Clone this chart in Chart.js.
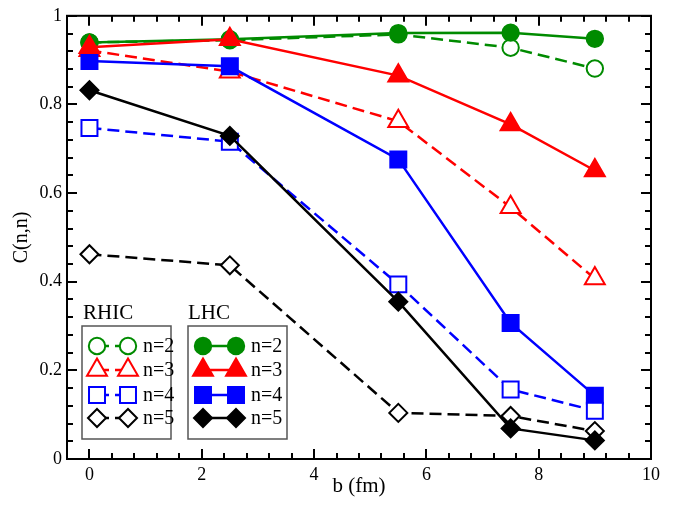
<!DOCTYPE html>
<html>
<head>
<meta charset="utf-8">
<title>C(n,n) vs b</title>
<script src="https://cdn.jsdelivr.net/npm/chart.js@4/dist/chart.umd.min.js"></script>
<style>
  html, body { margin: 0; padding: 0; background: #fff; }
  #wrap { width: 691px; height: 505px; }
</style>
</head>
<body>
<div id="wrap"><canvas id="corrChart" width="691" height="505"></canvas></div>
<script>
// impact parameter b (fm)
const bValues = [0, 2.5, 5.5, 7.5, 9];

// RHIC (open symbols, dashed)
const rhicN2 = [0.940, 0.945, 0.958, 0.928, 0.881];
const rhicN3 = [0.922, 0.874, 0.762, 0.568, 0.407];
const rhicN4 = [0.747, 0.716, 0.394, 0.157, 0.109];
const rhicN5 = [0.462, 0.437, 0.104, 0.097, 0.063];

// LHC (filled symbols, solid)
const lhcN2 = [0.940, 0.947, 0.961, 0.962, 0.948];
const lhcN3 = [0.929, 0.947, 0.865, 0.755, 0.651];
const lhcN4 = [0.898, 0.886, 0.676, 0.307, 0.143];
const lhcN5 = [0.832, 0.729, 0.355, 0.069, 0.042];

const xTicks = [0, 2, 4, 6, 8, 10];
const yTicks = [0, 0.2, 0.4, 0.6, 0.8, 1];
const xMinorStep = 0.4;
const yMinorStep = 0.04;

const GREEN = "rgb(0, 139, 0)";
const RED = "rgb(255, 0, 0)";
const BLUE = "rgb(0, 0, 255)";
const BLACK = "rgb(0, 0, 0)";
const FONT = "'Liberation Serif', 'Times New Roman', serif";

Chart.defaults.font.family = FONT;
Chart.defaults.color = "#000";

function points(vals) {
    return bValues.map(function (b, i) { return { x: b, y: vals[i] }; });
}

function series(label, vals, color, style, radius, open) {
    return {
        label: label,
        data: points(vals),
        borderColor: color,
        borderWidth: 2.5,
        borderDash: open ? [12, 6] : [],
        pointStyle: style,
        pointRadius: radius,
        pointHoverRadius: radius,
        pointBackgroundColor: open ? "#fff" : color,
        pointBorderColor: color,
        pointBorderWidth: 2,
        tension: 0,
        fill: false
    };
}

// listed top-most first (Chart.js paints dataset 0 last)
const datasets = [
    series("LHC n=3", lhcN3, RED, "triangle", 11.5, false),
    series("LHC n=5", lhcN5, BLACK, "rectRot", 9, false),
    series("RHIC n=4", rhicN4, BLUE, "rect", 11.3, true),
    series("LHC n=4", lhcN4, BLUE, "rect", 11.3, false),
    series("RHIC n=5", rhicN5, BLACK, "rectRot", 9, true),
    series("RHIC n=3", rhicN3, RED, "triangle", 11.5, true),
    series("LHC n=2", lhcN2, GREEN, "circle", 8.2, false),
    series("RHIC n=2", rhicN2, GREEN, "circle", 8.2, true)
];

// frame with inward ticks on all four sides
const frameTicks = {
    id: "frameTicks",
    afterDraw: function (chart) {
        const ctx = chart.ctx;
        const a = chart.chartArea;
        const xs = chart.scales.x, ys = chart.scales.y;
        ctx.save();
        ctx.strokeStyle = "#000";
        ctx.lineWidth = 2;
        ctx.beginPath();
        for (let v = 0; v <= 10 + 1e-9; v += xMinorStep) {
            const major = xTicks.some(function (t) { return Math.abs(t - v) < 1e-6; });
            const len = major ? 10 : 6;
            const px = Math.round(xs.getPixelForValue(v));
            ctx.moveTo(px, a.bottom); ctx.lineTo(px, a.bottom - len);
            ctx.moveTo(px, a.top); ctx.lineTo(px, a.top + len);
        }
        for (let v = 0; v <= 1 + 1e-9; v += yMinorStep) {
            const major = yTicks.some(function (t) { return Math.abs(t - v) < 1e-6; });
            const len = major ? 10 : 6;
            const py = Math.round(ys.getPixelForValue(v));
            ctx.moveTo(a.left, py); ctx.lineTo(a.left + len, py);
            ctx.moveTo(a.right, py); ctx.lineTo(a.right - len, py);
        }
        ctx.stroke();
        ctx.strokeRect(a.left, a.top, a.right - a.left, a.bottom - a.top);
        ctx.restore();
    }
};

// two boxed legends: RHIC (dashed/open) and LHC (solid/filled)
const groupLegend = {
    id: "groupLegend",
    afterDraw: function (chart) {
        const ctx = chart.ctx;
        const rows = [346, 370, 395, 418];
        const groups = [
            { name: "RHIC", box: [82, 326, 89, 113], title: 83, m1: 97, m2: 128, text: 143 },
            { name: "LHC", box: [188, 326, 99, 113], title: 188, m1: 203, m2: 236, text: 251 }
        ];
        ctx.save();
        ctx.textBaseline = "middle";
        ctx.textAlign = "left";
        groups.forEach(function (g) {
            const b = g.box;
            ctx.fillStyle = "#fff";
            ctx.fillRect(b[0], b[1], b[2], b[3]);
            ctx.strokeStyle = "#555";
            ctx.lineWidth = 1.5;
            ctx.setLineDash([]);
            ctx.strokeRect(b[0], b[1], b[2], b[3]);
            ctx.fillStyle = "#000";
            ctx.font = "21px " + FONT;
            ctx.fillText(g.name, g.title, 313);

            ctx.font = "20px " + FONT;
            ["n=2", "n=3", "n=4", "n=5"].forEach(function (n, i) {
                const ds = chart.data.datasets.find(function (d) { return d.label === g.name + " " + n; });
                const y = rows[i];
                ctx.save();
                ctx.strokeStyle = ds.borderColor;
                ctx.lineWidth = ds.borderWidth;
                ctx.setLineDash(ds.borderDash);
                ctx.beginPath();
                ctx.moveTo(g.m1, y);
                ctx.lineTo(g.m2, y);
                ctx.stroke();
                ctx.setLineDash([]);
                [g.m1, g.m2].forEach(function (mx) {
                    ctx.fillStyle = ds.pointBackgroundColor;
                    ctx.strokeStyle = ds.pointBorderColor;
                    ctx.lineWidth = ds.pointBorderWidth;
                    Chart.helpers.drawPoint(ctx, {
                        pointStyle: ds.pointStyle,
                        radius: ds.pointRadius,
                        borderWidth: ds.pointBorderWidth,
                        rotation: 0
                    }, mx, y);
                });
                ctx.restore();
                ctx.fillStyle = "#000";
                ctx.fillText(n, g.text, y + 1);
            });
        });
        ctx.restore();
    }
};

const ctx = document.getElementById("corrChart");
const corrChart = new Chart(ctx, {
    type: "line",
    data: { datasets: datasets },
    options: {
        responsive: false,
        animation: false,
        devicePixelRatio: 1,
        layout: { padding: { top: 7, right: 40, left: 0, bottom: 0 } },
        plugins: {
            legend: { display: false },
            tooltip: { enabled: false }
        },
        scales: {
            x: {
                type: "linear",
                min: -0.4,
                max: 10,
                afterBuildTicks: function (s) { s.ticks = xTicks.map(function (v) { return { value: v }; }); },
                afterFit: function (s) { s.height = 46; },
                grid: { display: false, drawTicks: false },
                border: { display: false },
                ticks: {
                    padding: 5,
                    maxRotation: 0,
                    autoSkip: false,
                    font: { size: 18 },
                    callback: function (v) { return String(v); }
                },
                title: {
                    display: true,
                    text: "b (fm)",
                    font: { size: 21 },
                    padding: { top: 0, bottom: 6 }
                }
            },
            y: {
                type: "linear",
                min: 0,
                max: 1,
                afterBuildTicks: function (s) { s.ticks = yTicks.map(function (v) { return { value: v }; }); },
                afterFit: function (s) { s.width = 67; },
                grid: { display: false, drawTicks: false },
                border: { display: false },
                ticks: {
                    padding: 5,
                    autoSkip: false,
                    font: { size: 18 },
                    callback: function (v) { return String(v); }
                },
                title: {
                    display: true,
                    text: "C(n,n)",
                    font: { size: 20 },
                    padding: { top: 10, bottom: 0 }
                }
            }
        }
    },
    plugins: [frameTicks, groupLegend]
});
</script>
</body>
</html>
